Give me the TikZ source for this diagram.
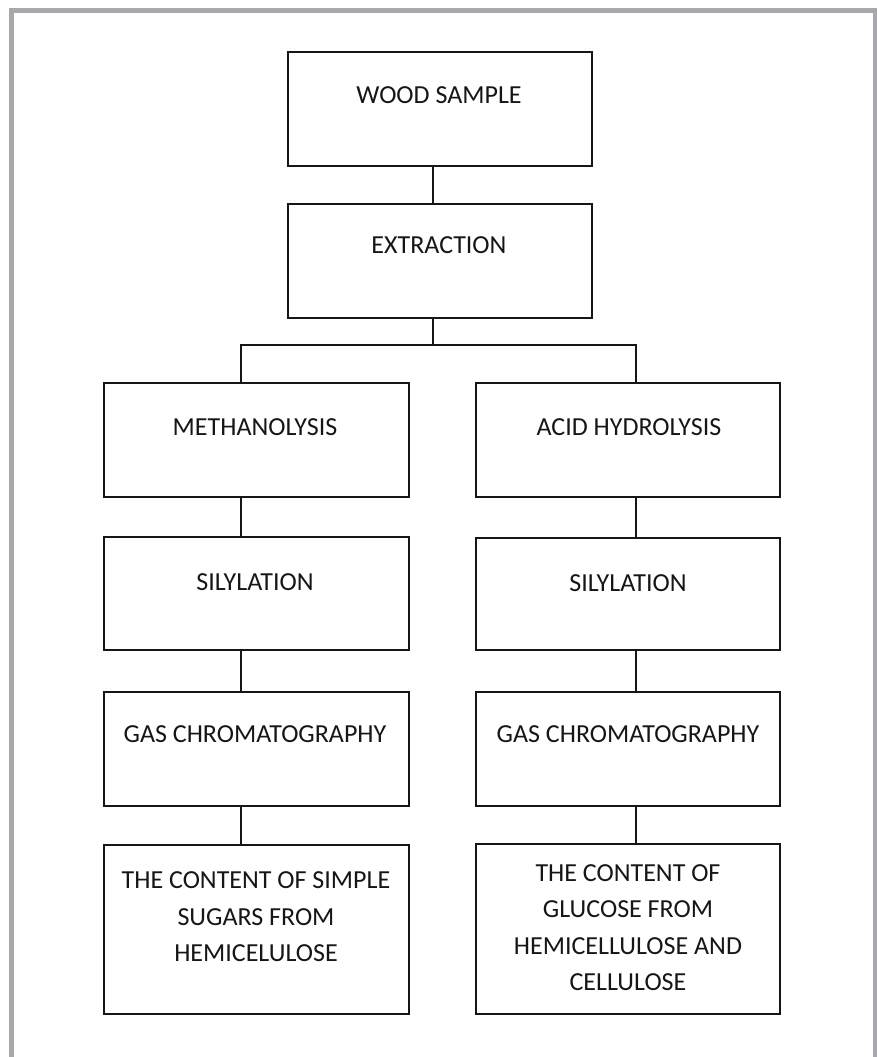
\documentclass[tikz,border=0pt]{standalone}
\usepackage{fontspec}
\setmainfont{Carlito}
\definecolor{frame}{RGB}{168,168,172}
\definecolor{ink}{RGB}{22,22,22}
\begin{document}
\begin{tikzpicture}[x=1pt,y=-1pt,
  box/.style={draw=ink, line width=1.8pt, inner sep=0pt, minimum width=304pt},
  txt/.style={text=ink, font=\fontsize{26}{36.5}\selectfont, inner sep=0pt, align=center},
  conn/.style={draw=ink, line width=1.8pt}]
\useasboundingbox (0,0) rectangle (877,1057);
\fill[white] (0,0) rectangle (877,1057);
% outer frame
\draw[frame, line width=5pt] (11.5,1060) -- (11.5,10.5) -- (875,10.5) -- (875,1060);
% boxes
\node[box, minimum height=114pt] (ws) at (440,109) {};
\node[box, minimum height=114pt] (ex) at (440,261) {};
\node[box, minimum width=305pt, minimum height=114pt] (me) at (256.5,440) {};
\node[box, minimum height=114pt] (ah) at (628,440) {};
\node[box, minimum width=305pt, minimum height=113pt] (s1) at (256.5,593.5) {};
\node[box, minimum height=112pt] (s2) at (628,594) {};
\node[box, minimum width=305pt, minimum height=114pt] (g1) at (256.5,749) {};
\node[box, minimum height=114pt] (g2) at (628,749) {};
\node[box, minimum width=305pt, minimum height=169pt] (r1) at (256.5,929.5) {};
\node[box, minimum height=170pt] (r2) at (628,929) {};
% texts
\node[txt, anchor=base] (tws) at (439,103) {WOOD SAMPLE};
\node[txt, anchor=base] (tex) at (439,253) {EXTRACTION};
\node[txt, anchor=base] (tme) at (255,435) {METHANOLYSIS};
\node[txt, anchor=base] (tah) at (629,435) {ACID HYDROLYSIS};
\node[txt, anchor=base] (ts1) at (255,590) {SILYLATION};
\node[txt, anchor=base] (ts2) at (628,591) {SILYLATION};
\node[txt, anchor=base] (tg1) at (255,742) {GAS CHROMATOGRAPHY};
\node[txt, anchor=base] (tg2) at (628,742) {GAS CHROMATOGRAPHY};
\node[txt] (tr1) at (256,917) {THE CONTENT OF SIMPLE\\SUGARS FROM\\HEMICELULOSE};
\node[txt] (tr2) at (628,927.5) {THE CONTENT OF\\GLUCOSE FROM\\HEMICELLULOSE AND\\CELLULOSE};
% connectors
\draw[conn] ([xshift=-7pt]ws.south) -- ([xshift=-7pt]ex.north);
\draw[conn] ([xshift=-7pt]ex.south) -- ++(0,26) coordinate (br);
\draw[conn] ([xshift=-15.5pt]me.north) |- (br) -| ([xshift=8pt]ah.north);
\draw[conn] ([xshift=-15.5pt]me.south) -- ([xshift=-15.5pt]s1.north);
\draw[conn] ([xshift=-15.5pt]s1.south) -- ([xshift=-15.5pt]g1.north);
\draw[conn] ([xshift=-15.5pt]g1.south) -- ([xshift=-15.5pt]r1.north);
\draw[conn] ([xshift=8pt]ah.south) -- ([xshift=8pt]s2.north);
\draw[conn] ([xshift=8pt]s2.south) -- ([xshift=8pt]g2.north);
\draw[conn] ([xshift=8pt]g2.south) -- ([xshift=8pt]r2.north);
\end{tikzpicture}
\end{document}
